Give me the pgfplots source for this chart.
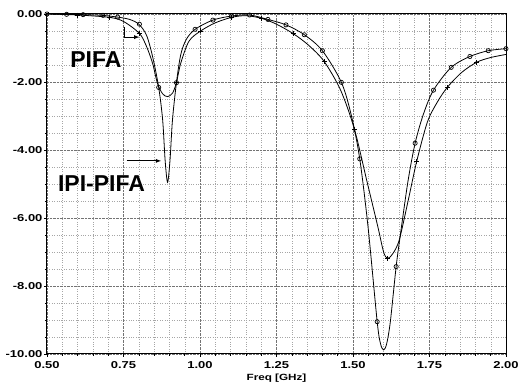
\documentclass[border=0pt]{standalone}
\usepackage{pgfplots}
\pgfplotsset{compat=1.18}
\usepackage{fontspec}
\setmainfont{Liberation Sans}
\newfontfamily\tickfont[FakeStretch=1.3]{Liberation Sans}
\begin{document}
\begin{tikzpicture}
\begin{axis}[
  name=ax,
  scale only axis,
  width=459pt, height=340pt,
  xmin=0.5, xmax=2.0, ymin=-10, ymax=0,
  xtick={0.5,0.75,...,2.0}, ytick={-10,-8,...,0},
  minor x tick num=4, minor y tick num=3,
  tick align=outside, xtick pos=bottom, ytick pos=left,
  major tick length=3pt, minor tick length=2pt,
  grid=both,
  major grid style={black!55, densely dotted, line width=0.5pt},
  minor grid style={black!35, dotted, line width=0.4pt},
  axis line style={line width=1pt},
  tick style={black, line width=0.6pt},
  /pgf/number format/assume math mode=true,
  /pgf/number format/fixed, /pgf/number format/fixed zerofill,
  /pgf/number format/precision=2,
  ticklabel style={font=\tickfont\bfseries\fontsize{10}{11}\selectfont},
  yticklabel style={xshift=2pt},
  xticklabel style={yshift=-1pt},
  xlabel={Freq [GHz]},
  xlabel style={font=\tickfont\bfseries\fontsize{9}{10}\selectfont, at={(axis description cs:0.5,0)}, anchor=center, yshift=-24pt},
]
% IPI-PIFA (circles) curve
\addplot[black, line width=0.8pt, smooth, tension=0.5] coordinates {
(0.50,0.00) (0.56,-0.01) (0.62,-0.02) (0.68,-0.04) (0.73,-0.09) (0.77,-0.16)
(0.80,-0.30) (0.825,-0.62) (0.845,-1.25) (0.865,-2.16) (0.878,-3.12) (0.886,-4.3)
(0.894,-4.95) (0.902,-4.3) (0.910,-3.12) (0.923,-2.02) (0.937,-1.20) (0.955,-0.75)
(0.984,-0.45) (1.042,-0.18) (1.103,-0.06) (1.162,-0.03) (1.222,-0.16) (1.281,-0.32)
(1.341,-0.61) (1.400,-1.08) (1.462,-2.01) (1.495,-3.0) (1.522,-4.26) (1.549,-6.25)
(1.579,-9.05) (1.590,-9.7) (1.600,-9.88) (1.610,-9.7) (1.622,-9.05) (1.641,-7.43)
(1.657,-6.35) (1.68,-4.9) (1.703,-3.80) (1.73,-2.95) (1.763,-2.24) (1.821,-1.57)
(1.882,-1.25) (1.942,-1.08) (2.000,-1.02)
};
\addplot[black, only marks, mark=o, mark size=2.1pt, mark options={line width=0.7pt}] coordinates {
(0.50,0.00) (0.564,-0.01) (0.618,-0.02) (0.683,-0.04) (0.731,-0.09) (0.802,-0.30)
(0.865,-2.16) (0.923,-2.02) (0.984,-0.45) (1.042,-0.18) (1.103,-0.06) (1.162,-0.03)
(1.222,-0.16) (1.281,-0.32) (1.341,-0.61) (1.400,-1.08) (1.462,-2.01) (1.522,-4.26)
(1.579,-9.05) (1.641,-7.43) (1.703,-3.80) (1.763,-2.24) (1.821,-1.57) (1.882,-1.25)
(1.942,-1.08) (2.000,-1.02)
};
% PIFA (crosses) curve
\addplot[black, line width=0.8pt, smooth, tension=0.5] coordinates {
(0.50,0.00) (0.60,-0.03) (0.705,-0.10) (0.75,-0.22) (0.802,-0.57) (0.825,-0.95)
(0.845,-1.45) (0.861,-2.04) (0.878,-2.35) (0.894,-2.43) (0.910,-2.33) (0.923,-2.02)
(0.937,-1.45) (0.964,-0.80) (1.002,-0.50) (1.05,-0.26) (1.103,-0.10) (1.15,-0.05)
(1.202,-0.13) (1.25,-0.30) (1.305,-0.58) (1.355,-0.92) (1.406,-1.40) (1.46,-2.25)
(1.505,-3.40) (1.545,-4.9) (1.581,-6.25) (1.600,-7.0) (1.613,-7.19) (1.630,-7.05)
(1.651,-6.65) (1.68,-5.5) (1.708,-4.34) (1.743,-3.18) (1.775,-2.60) (1.808,-2.16)
(1.855,-1.72) (1.904,-1.42) (1.95,-1.28) (2.00,-1.19)
};
\addplot[black, only marks, mark=+, mark size=2.5pt, mark options={line width=0.8pt}] coordinates {
(0.60,-0.03) (0.705,-0.10) (0.802,-0.57) (0.923,-2.02) (1.002,-0.50) (1.103,-0.10)
(1.202,-0.13) (1.305,-0.58) (1.406,-1.40) (1.505,-3.40) (1.613,-7.19) (1.708,-4.34)
(1.808,-2.16) (1.904,-1.42)
};
% annotations
\node[font=\bfseries\fontsize{23}{24}\selectfont] at (axis cs:0.660,-1.35) {PIFA};
\node[font=\bfseries\fontsize{23}{24}\selectfont] at (axis cs:0.678,-5.0) {IPI-PIFA};
\draw[-latex, line width=0.8pt] (axis cs:0.753,-0.38) -- (axis cs:0.753,-0.68) -- (axis cs:0.802,-0.68);
\draw[-latex, line width=0.8pt] (axis cs:0.760,-4.32) -- (axis cs:0.873,-4.32);
\end{axis}
\pgfresetboundingbox
\path (ax.south west) ++(-47pt,-33pt) -- (ax.north east) -- ++(13pt,14pt);
\end{tikzpicture}
\end{document}
